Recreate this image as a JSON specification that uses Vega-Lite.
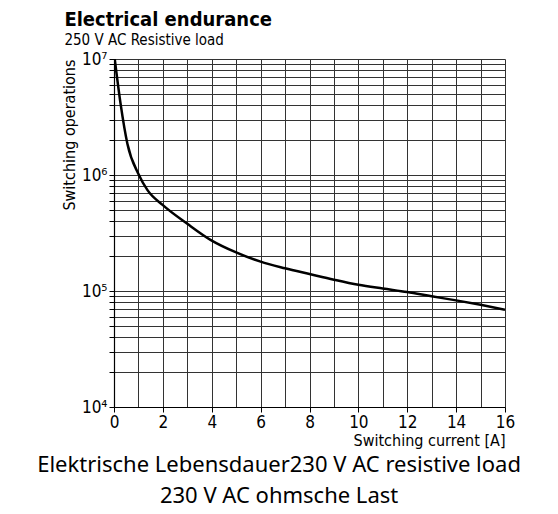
{
  "$schema": "https://vega.github.io/schema/vega-lite/v6.json",
  "padding": {"left": 37, "top": 10, "right": 5, "bottom": 5},
  "title": {
    "text": ["Elektrische Lebensdauer230 V AC resistive load", "230 V AC ohmsche Last"],
    "orient": "bottom",
    "anchor": "middle",
    "dx": -9,
    "font": "Noto Sans",
    "fontSize": 22,
    "fontWeight": "normal",
    "lineHeight": 31,
    "color": "#000",
    "offset": 7
  },
  "vconcat": [
    {
      "width": 391,
      "height": 348,
      "title": {
        "text": "Electrical endurance",
        "subtitle": "250 V AC Resistive load",
        "anchor": "start",
        "dx": 3,
        "font": "DejaVu Sans Condensed",
        "fontSize": 20,
        "fontWeight": "bold",
        "color": "#000",
        "subtitleFont": "DejaVu Sans Condensed",
        "subtitleFontSize": 15,
        "subtitleColor": "#000",
        "subtitlePadding": 3,
        "offset": 2
      },
      "data": {
        "values": [
          {"current": 0.03, "ops": 10000000},
          {"current": 0.27, "ops": 4100000},
          {"current": 0.55, "ops": 1850000},
          {"current": 1.0, "ops": 1020000},
          {"current": 1.37, "ops": 740000},
          {"current": 2.0, "ops": 550000},
          {"current": 3.0, "ops": 380000},
          {"current": 4.0, "ops": 272000},
          {"current": 5.0, "ops": 215000},
          {"current": 6.0, "ops": 179000},
          {"current": 7.0, "ops": 157000},
          {"current": 8.0, "ops": 140000},
          {"current": 9.0, "ops": 125000},
          {"current": 10.0, "ops": 113000},
          {"current": 11.0, "ops": 105000},
          {"current": 12.0, "ops": 98000},
          {"current": 13.0, "ops": 90000},
          {"current": 14.0, "ops": 83000},
          {"current": 15.0, "ops": 76000},
          {"current": 16.0, "ops": 69000}
        ]
      },
      "mark": {"type": "line", "color": "#000", "strokeWidth": 2.5, "interpolate": "monotone", "clip": true},
      "encoding": {
        "x": {
          "field": "current",
          "type": "quantitative",
          "scale": {"domain": [0, 16], "nice": false, "zero": false},
          "axis": {
            "title": "Switching current [A]",
            "titleAnchor": "end",
            "titleFont": "DejaVu Sans Condensed",
            "titleFontSize": 16,
            "titleFontWeight": "normal",
            "titleColor": "#000",
            "titlePadding": 2,
            "values": [0,1,2,3,4,5,6,7,8,9,10,11,12,13,14,15,16],
            "labelExpr": "datum.value % 2 == 0 ? datum.label : ''",
            "labelFont": "DejaVu Sans Condensed",
            "labelFontSize": 17,
            "labelColor": "#000",
            "labelFlush": false,
            "labelOverlap": false,
            "labelPadding": 2,
            "grid": true,
            "gridColor": "#333",
            "gridWidth": 1,
            "gridOpacity": 1,
            "domainColor": "#000",
            "domainWidth": 1.2,
            "tickColor": "#000",
            "tickSize": 5,
            "tickOpacity": {"condition": {"test": "datum.value % 2 == 0", "value": 1}, "value": 0}
          }
        },
        "y": {
          "field": "ops",
          "type": "quantitative",
          "scale": {"type": "log", "domain": [10000, 10000000], "nice": false},
          "axis": {
            "title": "Switching operations",
            "titleAnchor": "end",
            "titleFont": "DejaVu Sans Condensed",
            "titleFontSize": 16,
            "titleFontWeight": "normal",
            "titleColor": "#000",
            "titlePadding": 4,
            "values": [10000,20000,30000,40000,50000,60000,70000,80000,90000,100000,200000,300000,400000,500000,600000,700000,800000,900000,1000000,2000000,3000000,4000000,5000000,6000000,7000000,8000000,9000000,10000000],
            "labelExpr": "datum.value == 10000 ? '10⁴' : datum.value == 100000 ? '10⁵' : datum.value == 1000000 ? '10⁶' : datum.value == 10000000 ? '10⁷' : ''",
            "labelFont": "DejaVu Sans Condensed",
            "labelFontSize": 17,
            "labelColor": "#000",
            "labelFlush": false,
            "labelOverlap": false,
            "labelPadding": 2,
            "grid": true,
            "gridColor": "#333",
            "gridWidth": 1,
            "gridOpacity": 1,
            "domainColor": "#000",
            "domainWidth": 1.2,
            "tickColor": "#000",
            "tickSize": 5,
            "tickOpacity": {"condition": {"test": "datum.label != ''", "value": 1}, "value": 0}
          }
        }
      }
    }
  ],
  "config": {"view": {"stroke": null}, "background": "#ffffff"}
}
